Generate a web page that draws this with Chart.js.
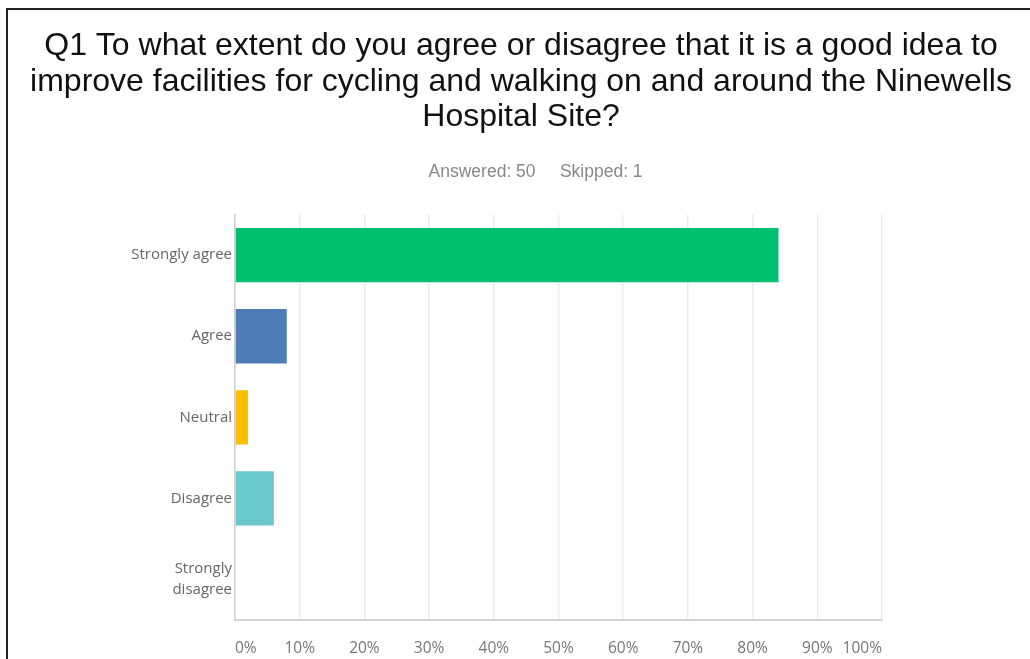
<!DOCTYPE html>
<html>
<head>
<meta charset="utf-8">
<script src="https://cdn.jsdelivr.net/npm/chart.js@4"></script>
<style>
  html, body { margin: 0; padding: 0; background: #fff; }
  #wrap { position: relative; width: 1030px; height: 659px; overflow: hidden; }
  #frame { position: absolute; left: 6px; top: 8px; width: 1040px; height: 700px;
           border-top: 2px solid #222; border-left: 2px solid #222; }
  canvas { position: absolute; left: 0; top: 0; }
</style>
</head>
<body>
<div id="wrap">
  <div id="frame"></div>
  <canvas id="chart" width="1030" height="659"></canvas>
</div>
<script>
const CATEGORIES = ['Strongly agree', 'Agree', 'Neutral', 'Disagree', ['Strongly', 'disagree']];
const PERCENTS = [84, 8, 2, 6, 0];
const BAR_COLORS = ['#00bf6f', '#507cb6', '#f9be00', '#6bc8cd', '#935d8c'];
const TITLE_LINES = [
    'Q1 To what extent do you agree or disagree that it is a good idea to',
    'improve facilities for cycling and walking on and around the Ninewells',
    'Hospital Site?'
];
const SUBTITLE = '      Answered: 50     Skipped: 1';

new Chart(document.getElementById('chart'), {
    type: 'bar',
    data: {
        labels: CATEGORIES,
        datasets: [{
            data: PERCENTS,
            backgroundColor: BAR_COLORS,
            barPercentage: 0.67,
            categoryPercentage: 1,
        }]
    },
    options: {
        indexAxis: 'y',
        responsive: false,
        animation: false,
        layout: { padding: { left: 12, right: 0, top: 0, bottom: 0 } },
        scales: {
            x: {
                min: 0,
                max: 100,
                ticks: {
                    stepSize: 10,
                    align: 'inner',
                    padding: 19,
                    color: '#777',
                    font: { family: 'Open Sans', size: 15.5 },
                    callback: v => v + '%',
                },
                grid: { color: '#ebebeb', lineWidth: 1.5, drawTicks: false },
                border: { color: '#d4d4d4', width: 2 },
                afterFit: s => { s.height = 39; },
            },
            y: {
                ticks: {
                    padding: 3,
                    color: '#666',
                    font: { family: 'Open Sans', size: 15, lineHeight: 1.4 },
                },
                grid: { display: false, drawTicks: false },
                border: { color: '#cfcfcf', width: 1.5 },
                afterFit: s => { s.width = 223; },
            },
            // empty right-hand axis, only keeps the plot clear of the right margin
            yRight: {
                type: 'category',
                position: 'right',
                labels: [''],
                ticks: { display: false },
                grid: { display: false, drawTicks: false },
                border: { display: false },
                afterFit: s => { s.width = 148; },
            },
        },
        plugins: {
            legend: { display: false },
            tooltip: { enabled: false },
            title: {
                display: true,
                text: TITLE_LINES,
                color: '#111',
                font: { family: 'Liberation Sans', size: 32, weight: 'normal', lineHeight: 1.1 },
                padding: { top: 29, bottom: 27 },
            },
            subtitle: {
                display: true,
                text: SUBTITLE,
                color: '#888',
                font: { family: 'Liberation Sans', size: 17.5, lineHeight: 1.2 },
                padding: { top: 0, bottom: 32 },
            },
        },
    },
});
</script>
</body>
</html>
